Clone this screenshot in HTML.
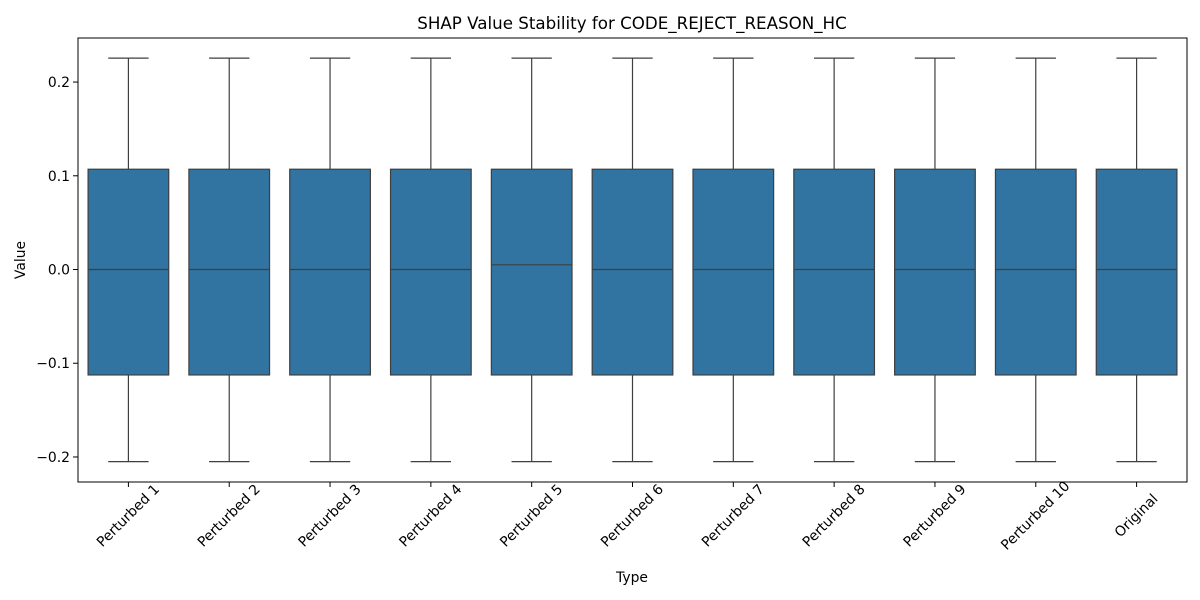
<!DOCTYPE html>
<html><head><meta charset="utf-8"><style>
body{margin:0;background:#fff;}
svg{display:block;font-family:"DejaVu Sans","Liberation Sans",sans-serif;}
</style></head><body>
<svg id="chart" width="1200" height="600" viewBox="0 0 1200 600">
<text x="632" y="29" text-anchor="middle" font-size="16.7" fill="#000">SHAP Value Stability for CODE_REJECT_REASON_HC</text>
<text x="632" y="582" text-anchor="middle" font-size="13.9" fill="#000">Type</text>
<text transform="translate(25,260) rotate(-90)" text-anchor="middle" font-size="13.9" fill="#000">Value</text>
<g id="marks"></g>
<rect x="78" y="38" width="1109" height="444" fill="none" stroke="#000" stroke-width="1"/>
</svg>
<script>
const categories=["Perturbed 1","Perturbed 2","Perturbed 3","Perturbed 4","Perturbed 5","Perturbed 6","Perturbed 7","Perturbed 8","Perturbed 9","Perturbed 10","Original"];
const whiskerLow=[-0.205,-0.205,-0.205,-0.205,-0.205,-0.205,-0.205,-0.205,-0.205,-0.205,-0.205];
const q1=[-0.1125,-0.1125,-0.1125,-0.1125,-0.1125,-0.1125,-0.1125,-0.1125,-0.1125,-0.1125,-0.1125];
const medians=[0.0,0.0,0.0,0.0,0.005,0.0,0.0,0.0,0.0,0.0,0.0];
const q3=[0.107,0.107,0.107,0.107,0.107,0.107,0.107,0.107,0.107,0.107,0.107];
const whiskerHigh=[0.2255,0.2255,0.2255,0.2255,0.2255,0.2255,0.2255,0.2255,0.2255,0.2255,0.2255];
const yTicks=[-0.2,-0.1,0.0,0.1,0.2];
const yTickLabels=["\u22120.2","\u22120.1","0.0","0.1","0.2"];

const L=78,R=1187,T=38,B=482,yMin=-0.2267,yMax=0.247;
const y=v=>B-(v-yMin)/(yMax-yMin)*(B-T);
const band=(R-L)/categories.length;
const x=i=>L+band*(i+0.5);
const NS="http://www.w3.org/2000/svg";
const g=document.getElementById('marks');
function mk(tag,attrs,parent){const e=document.createElementNS(NS,tag);for(const k in attrs)e.setAttribute(k,attrs[k]);(parent||g).appendChild(e);return e;}
const lc="#3f3f3f";
yTicks.forEach((v,i)=>{
  const t=mk('line',{x1:L-5,x2:L,y1:y(v),y2:y(v),stroke:"#000"});
  
  
  const tx=mk('text',{x:L-8,y:y(v)+5,'text-anchor':'end','font-size':'13.9',fill:'#000'});
  tx.textContent=yTickLabels[i];
  
  
});
const bw=band*0.8;
categories.forEach((c,i)=>{
  const cx=x(i);
  const grp=mk('g',{});
  
  
  mk('line',{x1:cx,x2:cx,y1:y(whiskerHigh[i]),y2:y(q3[i]),stroke:lc,'stroke-width':1.2},grp);
  mk('line',{x1:cx,x2:cx,y1:y(q1[i]),y2:y(whiskerLow[i]),stroke:lc,'stroke-width':1.2},grp);
  mk('line',{x1:cx-bw/4,x2:cx+bw/4,y1:y(whiskerHigh[i]),y2:y(whiskerHigh[i]),stroke:lc,'stroke-width':1.2},grp);
  mk('line',{x1:cx-bw/4,x2:cx+bw/4,y1:y(whiskerLow[i]),y2:y(whiskerLow[i]),stroke:lc,'stroke-width':1.2},grp);
  mk('rect',{x:cx-bw/2,y:y(q3[i]),width:bw,height:y(q1[i])-y(q3[i]),fill:"#3274a1",stroke:lc,'stroke-width':1.2},grp);
  mk('line',{x1:cx-bw/2,x2:cx+bw/2,y1:y(medians[i]),y2:y(medians[i]),stroke:lc,'stroke-width':1.2},grp);
  const t=mk('line',{x1:cx,x2:cx,y1:B,y2:B+5,stroke:"#000"});
  
  
  const tx=mk('text',{transform:`translate(${cx},${B+34}) rotate(-45)`,'text-anchor':'middle','font-size':'13.9',fill:'#000','dominant-baseline':'middle'});
  tx.textContent=c;
  
  
});
</script>
</body></html>
